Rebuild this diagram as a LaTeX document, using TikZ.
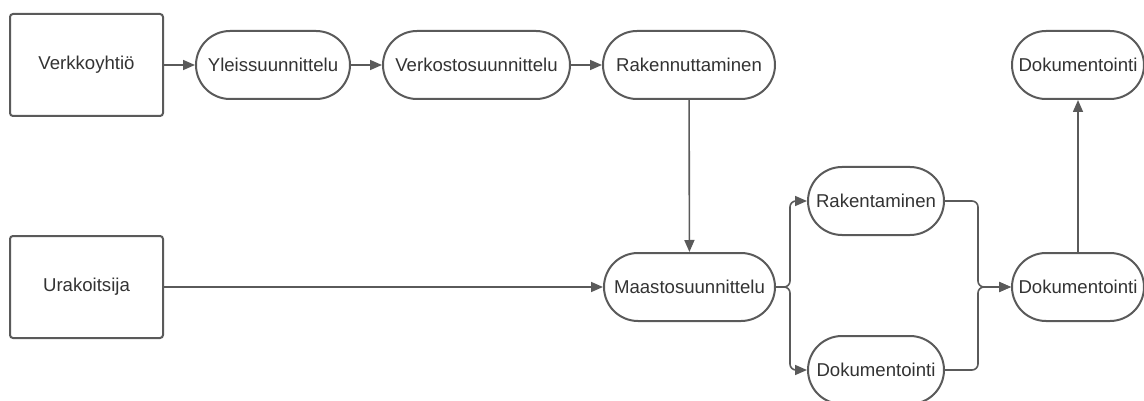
\documentclass[tikz,border=0pt]{standalone}
\usepackage{fontspec}
\setmainfont{Liberation Sans}
\usetikzlibrary{arrows.meta}
\definecolor{ln}{HTML}{5A5A5A}
\definecolor{tx}{HTML}{333333}
\tikzset{
  base/.style={draw=ln, line width=2pt, fill=white, text=tx, inner sep=0pt,
    font=\fontsize{18.6}{22}\selectfont},
  boxnode/.style={base, rounded corners=3pt, minimum width=153pt, minimum height=102pt},
  pill/.style={base, rounded corners=34pt, minimum height=68pt},
  conn/.style={draw=ln, line width=1.6pt, -{Triangle[length=12pt,width=10pt]}},
}
\begin{document}
\begin{tikzpicture}[x=1pt,y=-1pt]
\useasboundingbox (0,0) rectangle (1144,401);
\node[boxnode] (vk) at (86.5,65) {Verkkoyhtiö};
\node[boxnode] (ur) at (86.5,287) {Urakoitsija};
\node[pill, minimum width=154pt] (yl) at (273,65) {Yleissuunnittelu};
\node[pill, minimum width=187pt] (ve) at (476.5,65) {Verkostosuunnittelu};
\node[pill, minimum width=172pt] (ra) at (689,65) {Rakennuttaminen};
\node[pill, minimum width=132pt] (dt) at (1078,65) {Dokumentointi};
\node[pill, minimum width=171pt] (ma) at (689.5,287) {Maastosuunnittelu};
\node[pill, minimum width=136pt] (rk) at (876,201) {Rakentaminen};
\node[pill, minimum width=136pt] (db) at (876,370) {Dokumentointi};
\node[pill, minimum width=132pt] (dr) at (1078,287) {Dokumentointi};
\coordinate (sp) at (790,287);
\coordinate (mg) at (978,287);
\draw[conn] (vk) -- (yl);
\draw[conn] (yl) -- (ve);
\draw[conn] (ve) -- (ra);
\draw[conn] (ra) -- (ma);
\draw[conn] (ur) -- (ma);
\draw[conn, rounded corners=6pt] (ma.east) -- (sp) |- (rk.west);
\draw[conn, rounded corners=6pt] (ma.east) -- (sp) |- (db.west);
\draw[conn, rounded corners=6pt] (rk.east) -| (mg) -- (dr.west);
\draw[conn, rounded corners=6pt] (db.east) -| (mg) -- (dr.west);
\draw[conn] (dr.north -| dt.south) -- (dt.south);
\end{tikzpicture}
\end{document}
